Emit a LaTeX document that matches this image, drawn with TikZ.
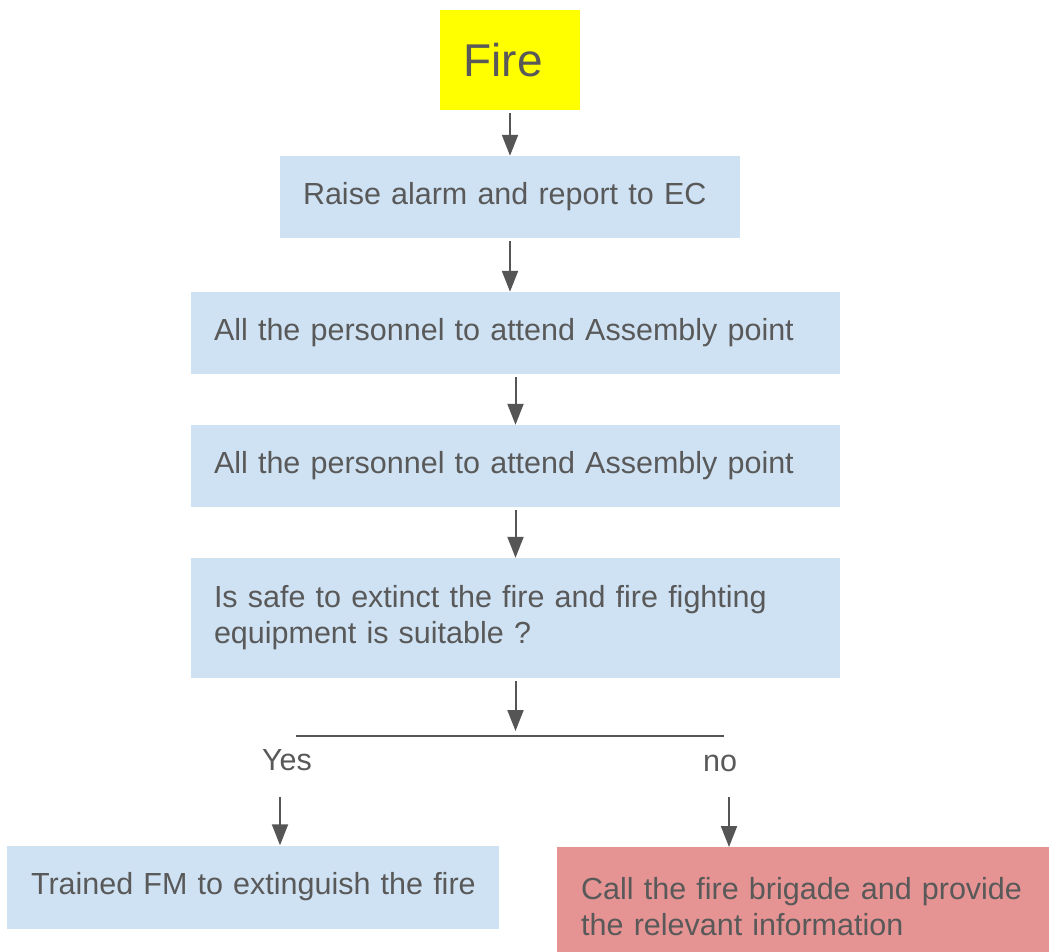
\documentclass[tikz,border=0pt]{standalone}
\usepackage{fontspec}
\setmainfont{Liberation Sans}
\usetikzlibrary{arrows.meta}
\definecolor{boxblue}{HTML}{CFE2F3}
\definecolor{boxred}{HTML}{E69393}
\definecolor{firey}{HTML}{FFFF00}
\definecolor{txt}{HTML}{595959}
\definecolor{arr}{HTML}{555555}
\begin{document}
\begin{tikzpicture}[x=1pt,y=-1pt,
  stepbox/.style={fill=boxblue, draw=none, inner xsep=23pt, inner ysep=0pt,
    text=txt, font=\fontsize{30.5}{36}\selectfont, align=left},
  redbox/.style={stepbox, fill=boxred},
  firebox/.style={fill=firey, draw=none, text=txt, minimum width=140pt,
    minimum height=100pt, inner sep=0pt, font=\fontsize{46}{50}\selectfont},
  lbl/.style={text=txt, font=\fontsize{30.5}{36}\selectfont, inner sep=0pt},
  flow/.style={draw=arr, line width=2pt, shorten <=3pt,
    -{Triangle[width=16pt,length=21pt]}},
  bar/.style={draw=arr, line width=2pt}
]
\clip (0,0) rectangle (1049,951);
\fill[white] (0,0) rectangle (1049,951);

\node[firebox] (fire) at (510,60) {Fire\hspace*{14pt}};
\node[stepbox, text width=414pt, minimum height=82pt] (b1) at (510,197) {Raise alarm and report to EC};
\node[stepbox, text width=603pt, minimum height=82pt] (b2) at (515.5,333) {All the personnel to attend Assembly point};
\node[stepbox, text width=603pt, minimum height=82pt] (b3) at (515.5,466) {All the personnel to attend Assembly point};
\node[stepbox, text width=603pt, minimum height=120pt] (b4) at (515.5,618) {Is safe to extinct the fire and fire fighting\\equipment is suitable ?};

\coordinate (jl) at (296,736);
\coordinate (jr) at (724,736);
\coordinate (jm) at (516,731);

\node[lbl] (yes) at (287,760) {Yes};
\node[lbl] (no) at (720,763) {no};

\coordinate (ya) at (280,797);
\coordinate (na) at (729,797);

\node[stepbox, inner xsep=24pt, text width=444pt, minimum height=83pt] (yesbox) at (253,887) {\mbox{Trained FM to extinguish the fire}};
\node[redbox, inner xsep=24pt, text width=460pt, minimum height=118pt, anchor=north west] (nobox) at (557,847) {Call the fire brigade and provide\\the relevant information};

\draw[flow] (fire.south) -- (b1.north);
\draw[flow] (b1.south) -- (b1.south |- b2.north);
\draw[flow] (b2.south) -- (b3.north);
\draw[flow] (b3.south) -- (b4.north);
\draw[flow] (b4.south) -- (b4.south |- jm);
\draw[bar] (jl) -- (jr);
\draw[flow, shorten <=0pt] (ya) -- (ya |- yesbox.north);
\draw[flow, shorten <=0pt] (na) -- (na |- nobox.north);
\end{tikzpicture}
\end{document}
